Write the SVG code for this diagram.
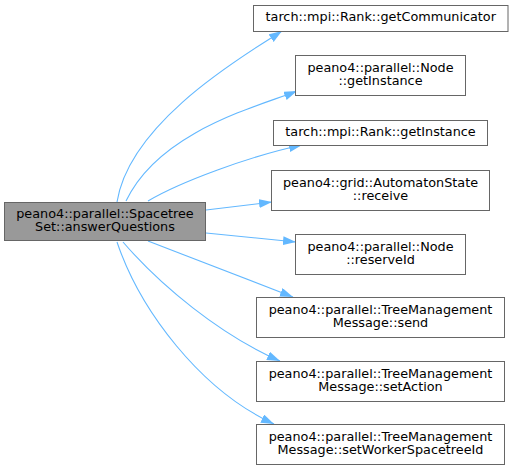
<svg xmlns="http://www.w3.org/2000/svg" width="513" height="471" viewBox="0 0 513 471">
<style>
.n rect{fill:#ffffff;stroke:#666666;stroke-width:1}
#root rect{fill:#999999}
text{font-family:"DejaVu Sans",sans-serif;font-size:12.8px;fill:#000000;text-anchor:middle}
.e path{fill:none;stroke:#63b8ff;stroke-width:1.1}
</style>
<defs>
<marker id="ah" markerUnits="userSpaceOnUse" markerWidth="14" markerHeight="10" refX="13" refY="4.5" orient="auto">
<path d="M0,0 L13,4.5 L0,9 Z" fill="#63b8ff"/>
</marker>
</defs>
<g class="e">
<path d="M117,202 C130,120 250,52 282,31" marker-end="url(#ah)"/>
<path d="M126,201 C160,130 260,106 297,91" marker-end="url(#ah)"/>
<path d="M148,201 C180,182 250,156 302,145" marker-end="url(#ah)"/>
<path d="M206,210 L272,202" marker-end="url(#ah)"/>
<path d="M206,233 L296,242" marker-end="url(#ah)"/>
<path d="M148,241 L293,297" marker-end="url(#ah)"/>
<path d="M123,242 C160,285 220,335 280,361" marker-end="url(#ah)"/>
<path d="M117,242 C140,310 200,390 274,424" marker-end="url(#ah)"/>
</g>
<g id="root" class="n"><rect x="4.5" y="202.5" width="201" height="38"/><text x="105" y="217.5">peano4::parallel::Spacetree</text><text x="105" y="231">Set::answerQuestions</text></g>
<g id="n1" class="n"><rect x="253.5" y="5.5" width="254.5" height="26"/><text x="380.75" y="20.5">tarch::mpi::Rank::getCommunicator</text></g>
<g id="n2" class="n"><rect x="295.5" y="55.5" width="170" height="40"/><text x="380.5" y="71.5">peano4::parallel::Node</text><text x="380.5" y="85">::getInstance</text></g>
<g id="n3" class="n"><rect x="273.5" y="120.5" width="214" height="25"/><text x="380.5" y="136">tarch::mpi::Rank::getInstance</text></g>
<g id="n4" class="n"><rect x="271.5" y="170.5" width="218" height="40"/><text x="380.5" y="186.5">peano4::grid::AutomatonState</text><text x="380.5" y="200">::receive</text></g>
<g id="n5" class="n"><rect x="295.5" y="234.5" width="170" height="40"/><text x="380.5" y="250.5">peano4::parallel::Node</text><text x="380.5" y="264">::reserveId</text></g>
<g id="n6" class="n"><rect x="256.5" y="297.5" width="248" height="40"/><text x="380.5" y="313.5">peano4::parallel::TreeManagement</text><text x="380.5" y="327">Message::send</text></g>
<g id="n7" class="n"><rect x="256.5" y="361.5" width="248" height="40"/><text x="380.5" y="377.5">peano4::parallel::TreeManagement</text><text x="380.5" y="391">Message::setAction</text></g>
<g id="n8" class="n"><rect x="256.5" y="424.5" width="248" height="40"/><text x="380.5" y="440.5">peano4::parallel::TreeManagement</text><text x="380.5" y="454">Message::setWorkerSpacetreeId</text></g>
</svg>
